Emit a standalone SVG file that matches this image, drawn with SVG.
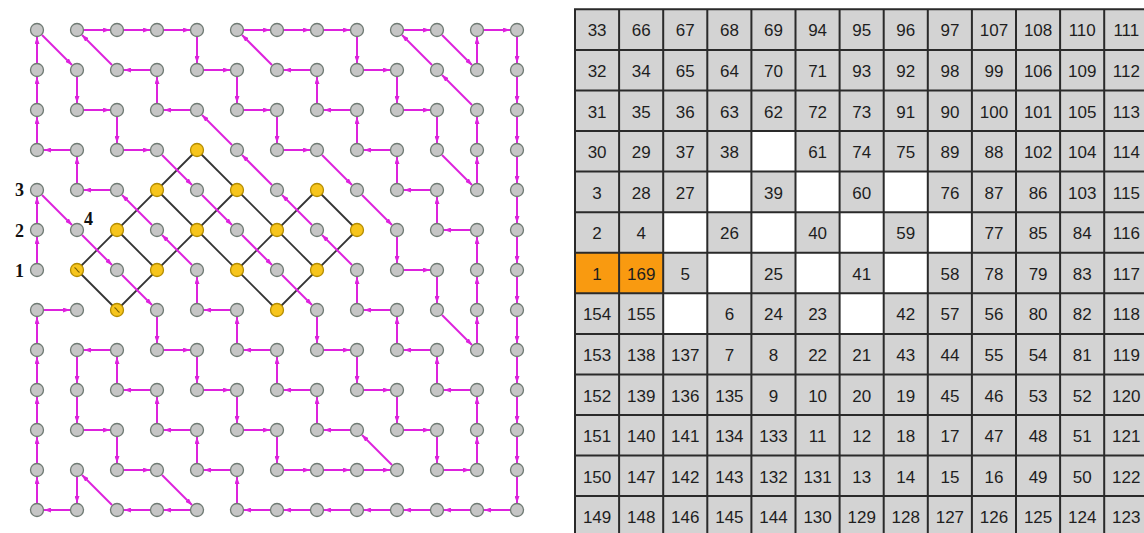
<svg xmlns="http://www.w3.org/2000/svg" width="1144" height="533" viewBox="0 0 1144 533">
<style>
.g{fill:#c6c6c6;stroke:#6f7a73;stroke-width:1.3}
.y{fill:#f7c51c;stroke:#b58d00;stroke-width:1.3}
.hm{stroke:#7a5f00;stroke-width:1.1;fill:none}
#edges path{stroke:#dd22dd;stroke-width:2;fill:none;marker-end:url(#ah)}
#lattice path{stroke:#333;stroke-width:1.8;fill:none}
.lbl{font-family:"Liberation Serif",serif;font-weight:bold;font-size:18px;fill:#111}
.tt{font-family:"Liberation Sans",Arial,sans-serif;font-size:17px;fill:#1e1e1e;text-anchor:middle}
.gl{stroke:#2a2a2a;stroke-width:2}
</style>
<defs>
<marker id="ah" markerUnits="userSpaceOnUse" viewBox="0 0 7 5" markerWidth="7" markerHeight="5" refX="7" refY="2.5" orient="auto"><path d="M0,0L7,2.5L0,5z" fill="#dd22dd"/></marker>
</defs>
<rect width="1144" height="533" fill="#fff"/>
<g id="lattice">
<path d="M77 270L197 150"/><path d="M117 310L237 190"/><path d="M237 270L317 190"/><path d="M277 310L357 230"/>
<path d="M197 150L317 270"/><path d="M157 190L277 310"/><path d="M117 230L157 270"/><path d="M77 270L117 310"/><path d="M317 190L357 230"/>
</g>
<g id="edges">
<path d="M37 263V237"/><path d="M37 223V197"/><path d="M42 195L72 225"/><path d="M82 235L112 265"/><path d="M122 275L152 305"/>
<path d="M157 317V343"/><path d="M164 350H190"/><path d="M197 357V383"/><path d="M204 390H230"/><path d="M237 397V423"/>
<path d="M244 430H270"/><path d="M277 437V463"/><path d="M284 470H310"/><path d="M324 470H350"/><path d="M364 470H390"/>
<path d="M392 465L362 435"/><path d="M350 430H324"/><path d="M317 423V397"/><path d="M310 390H284"/><path d="M277 383V357"/>
<path d="M270 350H244"/><path d="M237 343V317"/><path d="M230 310H204"/><path d="M197 303V277"/><path d="M192 265L162 235"/>
<path d="M152 225L122 195"/><path d="M110 190H84"/><path d="M77 183V157"/><path d="M70 150H44"/><path d="M37 143V117"/>
<path d="M37 103V77"/><path d="M37 63V37"/><path d="M42 35L72 65"/><path d="M77 77V103"/><path d="M84 110H110"/>
<path d="M117 117V143"/><path d="M124 150H150"/><path d="M162 155L192 185"/><path d="M202 195L232 225"/><path d="M242 235L272 265"/>
<path d="M282 275L312 305"/><path d="M317 317V343"/><path d="M324 350H350"/><path d="M357 357V383"/><path d="M364 390H390"/>
<path d="M397 397V423"/><path d="M404 430H430"/><path d="M437 437V463"/><path d="M444 470H470"/><path d="M477 463V437"/>
<path d="M477 423V397"/><path d="M470 390H444"/><path d="M437 383V357"/><path d="M430 350H404"/><path d="M397 343V317"/>
<path d="M390 310H364"/><path d="M357 303V277"/><path d="M352 265L322 235"/><path d="M312 225L282 195"/><path d="M272 185L242 155"/>
<path d="M232 145L202 115"/><path d="M190 110H164"/><path d="M157 103V77"/><path d="M150 70H124"/><path d="M112 65L82 35"/>
<path d="M84 30H110"/><path d="M124 30H150"/><path d="M164 30H190"/><path d="M197 37V63"/><path d="M204 70H230"/>
<path d="M237 77V103"/><path d="M244 110H270"/><path d="M277 117V143"/><path d="M284 150H310"/><path d="M322 155L352 185"/>
<path d="M362 195L392 225"/><path d="M397 237V263"/><path d="M404 270H430"/><path d="M437 277V303"/><path d="M442 315L472 345"/>
<path d="M477 343V317"/><path d="M477 303V277"/><path d="M477 263V237"/><path d="M470 230H444"/><path d="M437 223V197"/>
<path d="M430 190H404"/><path d="M397 183V157"/><path d="M390 150H364"/><path d="M357 143V117"/><path d="M350 110H324"/>
<path d="M317 103V77"/><path d="M310 70H284"/><path d="M272 65L242 35"/><path d="M244 30H270"/><path d="M284 30H310"/>
<path d="M324 30H350"/><path d="M357 37V63"/><path d="M364 70H390"/><path d="M397 77V103"/><path d="M404 110H430"/>
<path d="M437 117V143"/><path d="M442 155L472 185"/><path d="M477 183V157"/><path d="M477 143V117"/><path d="M472 105L442 75"/>
<path d="M432 65L402 35"/><path d="M404 30H430"/><path d="M442 35L472 65"/><path d="M477 63V37"/><path d="M484 30H510"/>
<path d="M517 37V63"/><path d="M517 77V103"/><path d="M517 117V143"/><path d="M517 157V183"/><path d="M517 197V223"/>
<path d="M517 237V263"/><path d="M517 277V303"/><path d="M517 317V343"/><path d="M517 357V383"/><path d="M517 397V423"/>
<path d="M517 437V463"/><path d="M517 477V503"/><path d="M510 510H484"/><path d="M470 510H444"/><path d="M430 510H404"/>
<path d="M390 510H364"/><path d="M350 510H324"/><path d="M310 510H284"/><path d="M270 510H244"/><path d="M237 503V477"/>
<path d="M230 470H204"/><path d="M197 463V437"/><path d="M190 430H164"/><path d="M157 423V397"/><path d="M150 390H124"/>
<path d="M117 383V357"/><path d="M110 350H84"/><path d="M77 357V383"/><path d="M77 397V423"/><path d="M84 430H110"/>
<path d="M117 437V463"/><path d="M124 470H150"/><path d="M162 475L192 505"/><path d="M190 510H164"/><path d="M150 510H124"/>
<path d="M112 505L82 475"/><path d="M77 477V503"/><path d="M70 510H44"/><path d="M37 503V477"/><path d="M37 463V437"/>
<path d="M37 423V397"/><path d="M37 383V357"/><path d="M37 343V317"/><path d="M44 310H70"/>
</g>
<g id="nodes">
<g id="n0_0"><circle class="g" cx="37" cy="30" r="6.5"/></g><g id="n0_1"><circle class="g" cx="77" cy="30" r="6.5"/></g><g id="n0_2"><circle class="g" cx="117" cy="30" r="6.5"/></g><g id="n0_3"><circle class="g" cx="157" cy="30" r="6.5"/></g><g id="n0_4"><circle class="g" cx="197" cy="30" r="6.5"/></g><g id="n0_5"><circle class="g" cx="237" cy="30" r="6.5"/></g><g id="n0_6"><circle class="g" cx="277" cy="30" r="6.5"/></g><g id="n0_7"><circle class="g" cx="317" cy="30" r="6.5"/></g><g id="n0_8"><circle class="g" cx="357" cy="30" r="6.5"/></g><g id="n0_9"><circle class="g" cx="397" cy="30" r="6.5"/></g><g id="n0_10"><circle class="g" cx="437" cy="30" r="6.5"/></g><g id="n0_11"><circle class="g" cx="477" cy="30" r="6.5"/></g><g id="n0_12"><circle class="g" cx="517" cy="30" r="6.5"/></g>
<g id="n1_0"><circle class="g" cx="37" cy="70" r="6.5"/></g><g id="n1_1"><circle class="g" cx="77" cy="70" r="6.5"/></g><g id="n1_2"><circle class="g" cx="117" cy="70" r="6.5"/></g><g id="n1_3"><circle class="g" cx="157" cy="70" r="6.5"/></g><g id="n1_4"><circle class="g" cx="197" cy="70" r="6.5"/></g><g id="n1_5"><circle class="g" cx="237" cy="70" r="6.5"/></g><g id="n1_6"><circle class="g" cx="277" cy="70" r="6.5"/></g><g id="n1_7"><circle class="g" cx="317" cy="70" r="6.5"/></g><g id="n1_8"><circle class="g" cx="357" cy="70" r="6.5"/></g><g id="n1_9"><circle class="g" cx="397" cy="70" r="6.5"/></g><g id="n1_10"><circle class="g" cx="437" cy="70" r="6.5"/></g><g id="n1_11"><circle class="g" cx="477" cy="70" r="6.5"/></g><g id="n1_12"><circle class="g" cx="517" cy="70" r="6.5"/></g>
<g id="n2_0"><circle class="g" cx="37" cy="110" r="6.5"/></g><g id="n2_1"><circle class="g" cx="77" cy="110" r="6.5"/></g><g id="n2_2"><circle class="g" cx="117" cy="110" r="6.5"/></g><g id="n2_3"><circle class="g" cx="157" cy="110" r="6.5"/></g><g id="n2_4"><circle class="g" cx="197" cy="110" r="6.5"/></g><g id="n2_5"><circle class="g" cx="237" cy="110" r="6.5"/></g><g id="n2_6"><circle class="g" cx="277" cy="110" r="6.5"/></g><g id="n2_7"><circle class="g" cx="317" cy="110" r="6.5"/></g><g id="n2_8"><circle class="g" cx="357" cy="110" r="6.5"/></g><g id="n2_9"><circle class="g" cx="397" cy="110" r="6.5"/></g><g id="n2_10"><circle class="g" cx="437" cy="110" r="6.5"/></g><g id="n2_11"><circle class="g" cx="477" cy="110" r="6.5"/></g><g id="n2_12"><circle class="g" cx="517" cy="110" r="6.5"/></g>
<g id="n3_0"><circle class="g" cx="37" cy="150" r="6.5"/></g><g id="n3_1"><circle class="g" cx="77" cy="150" r="6.5"/></g><g id="n3_2"><circle class="g" cx="117" cy="150" r="6.5"/></g><g id="n3_3"><circle class="g" cx="157" cy="150" r="6.5"/></g><g id="n3_4"><circle class="y" cx="197" cy="150" r="6.5"/></g><g id="n3_5"><circle class="g" cx="237" cy="150" r="6.5"/></g><g id="n3_6"><circle class="g" cx="277" cy="150" r="6.5"/></g><g id="n3_7"><circle class="g" cx="317" cy="150" r="6.5"/></g><g id="n3_8"><circle class="g" cx="357" cy="150" r="6.5"/></g><g id="n3_9"><circle class="g" cx="397" cy="150" r="6.5"/></g><g id="n3_10"><circle class="g" cx="437" cy="150" r="6.5"/></g><g id="n3_11"><circle class="g" cx="477" cy="150" r="6.5"/></g><g id="n3_12"><circle class="g" cx="517" cy="150" r="6.5"/></g>
<g id="n4_0"><circle class="g" cx="37" cy="190" r="6.5"/><text class="lbl" x="24" y="196" text-anchor="end">3</text></g><g id="n4_1"><circle class="g" cx="77" cy="190" r="6.5"/></g><g id="n4_2"><circle class="g" cx="117" cy="190" r="6.5"/></g><g id="n4_3"><circle class="y" cx="157" cy="190" r="6.5"/></g><g id="n4_4"><circle class="g" cx="197" cy="190" r="6.5"/></g><g id="n4_5"><circle class="y" cx="237" cy="190" r="6.5"/></g><g id="n4_6"><circle class="g" cx="277" cy="190" r="6.5"/></g><g id="n4_7"><circle class="y" cx="317" cy="190" r="6.5"/></g><g id="n4_8"><circle class="g" cx="357" cy="190" r="6.5"/></g><g id="n4_9"><circle class="g" cx="397" cy="190" r="6.5"/></g><g id="n4_10"><circle class="g" cx="437" cy="190" r="6.5"/></g><g id="n4_11"><circle class="g" cx="477" cy="190" r="6.5"/></g><g id="n4_12"><circle class="g" cx="517" cy="190" r="6.5"/></g>
<g id="n5_0"><circle class="g" cx="37" cy="230" r="6.5"/><text class="lbl" x="24" y="237" text-anchor="end">2</text></g><g id="n5_1"><circle class="g" cx="77" cy="230" r="6.5"/><text class="lbl" x="88.5" y="225" text-anchor="middle">4</text></g><g id="n5_2"><circle class="y" cx="117" cy="230" r="6.5"/></g><g id="n5_3"><circle class="g" cx="157" cy="230" r="6.5"/></g><g id="n5_4"><circle class="y" cx="197" cy="230" r="6.5"/></g><g id="n5_5"><circle class="g" cx="237" cy="230" r="6.5"/></g><g id="n5_6"><circle class="y" cx="277" cy="230" r="6.5"/></g><g id="n5_7"><circle class="g" cx="317" cy="230" r="6.5"/></g><g id="n5_8"><circle class="y" cx="357" cy="230" r="6.5"/></g><g id="n5_9"><circle class="g" cx="397" cy="230" r="6.5"/></g><g id="n5_10"><circle class="g" cx="437" cy="230" r="6.5"/></g><g id="n5_11"><circle class="g" cx="477" cy="230" r="6.5"/></g><g id="n5_12"><circle class="g" cx="517" cy="230" r="6.5"/></g>
<g id="n6_0"><circle class="g" cx="37" cy="270" r="6.5"/><text class="lbl" x="24" y="277" text-anchor="end">1</text></g><g id="n6_1"><circle class="y" cx="77" cy="270" r="6.5"/><path class="hm" d="M74.5 267.5Q76 268.5 77 270T79.5 272.5"/></g><g id="n6_2"><circle class="g" cx="117" cy="270" r="6.5"/></g><g id="n6_3"><circle class="y" cx="157" cy="270" r="6.5"/></g><g id="n6_4"><circle class="g" cx="197" cy="270" r="6.5"/></g><g id="n6_5"><circle class="y" cx="237" cy="270" r="6.5"/></g><g id="n6_6"><circle class="g" cx="277" cy="270" r="6.5"/></g><g id="n6_7"><circle class="y" cx="317" cy="270" r="6.5"/></g><g id="n6_8"><circle class="g" cx="357" cy="270" r="6.5"/></g><g id="n6_9"><circle class="g" cx="397" cy="270" r="6.5"/></g><g id="n6_10"><circle class="g" cx="437" cy="270" r="6.5"/></g><g id="n6_11"><circle class="g" cx="477" cy="270" r="6.5"/></g><g id="n6_12"><circle class="g" cx="517" cy="270" r="6.5"/></g>
<g id="n7_0"><circle class="g" cx="37" cy="310" r="6.5"/></g><g id="n7_1"><circle class="g" cx="77" cy="310" r="6.5"/></g><g id="n7_2"><circle class="y" cx="117" cy="310" r="6.5"/><path class="hm" d="M114.5 307.5Q116 308.5 117 310T119.5 312.5"/></g><g id="n7_3"><circle class="g" cx="157" cy="310" r="6.5"/></g><g id="n7_4"><circle class="g" cx="197" cy="310" r="6.5"/></g><g id="n7_5"><circle class="g" cx="237" cy="310" r="6.5"/></g><g id="n7_6"><circle class="y" cx="277" cy="310" r="6.5"/></g><g id="n7_7"><circle class="g" cx="317" cy="310" r="6.5"/></g><g id="n7_8"><circle class="g" cx="357" cy="310" r="6.5"/></g><g id="n7_9"><circle class="g" cx="397" cy="310" r="6.5"/></g><g id="n7_10"><circle class="g" cx="437" cy="310" r="6.5"/></g><g id="n7_11"><circle class="g" cx="477" cy="310" r="6.5"/></g><g id="n7_12"><circle class="g" cx="517" cy="310" r="6.5"/></g>
<g id="n8_0"><circle class="g" cx="37" cy="350" r="6.5"/></g><g id="n8_1"><circle class="g" cx="77" cy="350" r="6.5"/></g><g id="n8_2"><circle class="g" cx="117" cy="350" r="6.5"/></g><g id="n8_3"><circle class="g" cx="157" cy="350" r="6.5"/></g><g id="n8_4"><circle class="g" cx="197" cy="350" r="6.5"/></g><g id="n8_5"><circle class="g" cx="237" cy="350" r="6.5"/></g><g id="n8_6"><circle class="g" cx="277" cy="350" r="6.5"/></g><g id="n8_7"><circle class="g" cx="317" cy="350" r="6.5"/></g><g id="n8_8"><circle class="g" cx="357" cy="350" r="6.5"/></g><g id="n8_9"><circle class="g" cx="397" cy="350" r="6.5"/></g><g id="n8_10"><circle class="g" cx="437" cy="350" r="6.5"/></g><g id="n8_11"><circle class="g" cx="477" cy="350" r="6.5"/></g><g id="n8_12"><circle class="g" cx="517" cy="350" r="6.5"/></g>
<g id="n9_0"><circle class="g" cx="37" cy="390" r="6.5"/></g><g id="n9_1"><circle class="g" cx="77" cy="390" r="6.5"/></g><g id="n9_2"><circle class="g" cx="117" cy="390" r="6.5"/></g><g id="n9_3"><circle class="g" cx="157" cy="390" r="6.5"/></g><g id="n9_4"><circle class="g" cx="197" cy="390" r="6.5"/></g><g id="n9_5"><circle class="g" cx="237" cy="390" r="6.5"/></g><g id="n9_6"><circle class="g" cx="277" cy="390" r="6.5"/></g><g id="n9_7"><circle class="g" cx="317" cy="390" r="6.5"/></g><g id="n9_8"><circle class="g" cx="357" cy="390" r="6.5"/></g><g id="n9_9"><circle class="g" cx="397" cy="390" r="6.5"/></g><g id="n9_10"><circle class="g" cx="437" cy="390" r="6.5"/></g><g id="n9_11"><circle class="g" cx="477" cy="390" r="6.5"/></g><g id="n9_12"><circle class="g" cx="517" cy="390" r="6.5"/></g>
<g id="n10_0"><circle class="g" cx="37" cy="430" r="6.5"/></g><g id="n10_1"><circle class="g" cx="77" cy="430" r="6.5"/></g><g id="n10_2"><circle class="g" cx="117" cy="430" r="6.5"/></g><g id="n10_3"><circle class="g" cx="157" cy="430" r="6.5"/></g><g id="n10_4"><circle class="g" cx="197" cy="430" r="6.5"/></g><g id="n10_5"><circle class="g" cx="237" cy="430" r="6.5"/></g><g id="n10_6"><circle class="g" cx="277" cy="430" r="6.5"/></g><g id="n10_7"><circle class="g" cx="317" cy="430" r="6.5"/></g><g id="n10_8"><circle class="g" cx="357" cy="430" r="6.5"/></g><g id="n10_9"><circle class="g" cx="397" cy="430" r="6.5"/></g><g id="n10_10"><circle class="g" cx="437" cy="430" r="6.5"/></g><g id="n10_11"><circle class="g" cx="477" cy="430" r="6.5"/></g><g id="n10_12"><circle class="g" cx="517" cy="430" r="6.5"/></g>
<g id="n11_0"><circle class="g" cx="37" cy="470" r="6.5"/></g><g id="n11_1"><circle class="g" cx="77" cy="470" r="6.5"/></g><g id="n11_2"><circle class="g" cx="117" cy="470" r="6.5"/></g><g id="n11_3"><circle class="g" cx="157" cy="470" r="6.5"/></g><g id="n11_4"><circle class="g" cx="197" cy="470" r="6.5"/></g><g id="n11_5"><circle class="g" cx="237" cy="470" r="6.5"/></g><g id="n11_6"><circle class="g" cx="277" cy="470" r="6.5"/></g><g id="n11_7"><circle class="g" cx="317" cy="470" r="6.5"/></g><g id="n11_8"><circle class="g" cx="357" cy="470" r="6.5"/></g><g id="n11_9"><circle class="g" cx="397" cy="470" r="6.5"/></g><g id="n11_10"><circle class="g" cx="437" cy="470" r="6.5"/></g><g id="n11_11"><circle class="g" cx="477" cy="470" r="6.5"/></g><g id="n11_12"><circle class="g" cx="517" cy="470" r="6.5"/></g>
<g id="n12_0"><circle class="g" cx="37" cy="510" r="6.5"/></g><g id="n12_1"><circle class="g" cx="77" cy="510" r="6.5"/></g><g id="n12_2"><circle class="g" cx="117" cy="510" r="6.5"/></g><g id="n12_3"><circle class="g" cx="157" cy="510" r="6.5"/></g><g id="n12_4"><circle class="g" cx="197" cy="510" r="6.5"/></g><g id="n12_5"><circle class="g" cx="237" cy="510" r="6.5"/></g><g id="n12_6"><circle class="g" cx="277" cy="510" r="6.5"/></g><g id="n12_7"><circle class="g" cx="317" cy="510" r="6.5"/></g><g id="n12_8"><circle class="g" cx="357" cy="510" r="6.5"/></g><g id="n12_9"><circle class="g" cx="397" cy="510" r="6.5"/></g><g id="n12_10"><circle class="g" cx="437" cy="510" r="6.5"/></g><g id="n12_11"><circle class="g" cx="477" cy="510" r="6.5"/></g><g id="n12_12"><circle class="g" cx="517" cy="510" r="6.5"/></g>
</g>
<g id="table">
<rect x="575" y="9.3" width="580" height="540" fill="#d3d3d3"/>
<g fill="#f99a10"><rect x="575" y="252.7" width="88.2" height="40.6"/></g>
<g fill="#fff">
<rect x="751.4" y="131" width="44.1" height="40.6"/>
<rect x="707.3" y="171.6" width="44.1" height="40.6"/><rect x="795.5" y="171.6" width="44.1" height="40.6"/><rect x="883.7" y="171.6" width="44.1" height="40.6"/>
<rect x="663.2" y="212.2" width="44.1" height="40.6"/><rect x="751.4" y="212.2" width="44.1" height="40.6"/><rect x="839.6" y="212.2" width="44.1" height="40.6"/><rect x="927.8" y="212.2" width="44.1" height="40.6"/>
<rect x="707.3" y="252.7" width="44.1" height="40.6"/><rect x="795.5" y="252.7" width="44.1" height="40.6"/><rect x="883.7" y="252.7" width="44.1" height="40.6"/>
<rect x="663.2" y="293.3" width="44.1" height="40.6"/><rect x="839.6" y="293.3" width="44.1" height="40.6"/>
</g>
<g class="gl">
<path d="M575 9.3V533M619.1 9.3V533M663.2 9.3V533M707.3 9.3V533M751.4 9.3V533M795.5 9.3V533M839.6 9.3V533M883.7 9.3V533M927.8 9.3V533M971.9 9.3V533M1016 9.3V533M1060.1 9.3V533M1104.2 9.3V533"/>
<path d="M574 9.3H1144M574 49.9H1144M574 90.4H1144M574 131H1144M574 171.6H1144M574 212.2H1144M574 252.7H1144M574 293.3H1144M574 333.9H1144M574 374.4H1144M574 415H1144M574 455.6H1144M574 496.1H1144"/>
</g>
<g class="tt">
<text y="36.4"><tspan x="597.1">33</tspan><tspan x="641.2">66</tspan><tspan x="685.3">67</tspan><tspan x="729.4">68</tspan><tspan x="773.5">69</tspan><tspan x="817.6">94</tspan><tspan x="861.7">95</tspan><tspan x="905.8">96</tspan><tspan x="949.9">97</tspan><tspan x="994">107</tspan><tspan x="1038.1">108</tspan><tspan x="1082.2">110</tspan><tspan x="1126.3">111</tspan></text>
<text y="77"><tspan x="597.1">32</tspan><tspan x="641.2">34</tspan><tspan x="685.3">65</tspan><tspan x="729.4">64</tspan><tspan x="773.5">70</tspan><tspan x="817.6">71</tspan><tspan x="861.7">93</tspan><tspan x="905.8">92</tspan><tspan x="949.9">98</tspan><tspan x="994">99</tspan><tspan x="1038.1">106</tspan><tspan x="1082.2">109</tspan><tspan x="1126.3">112</tspan></text>
<text y="117.5"><tspan x="597.1">31</tspan><tspan x="641.2">35</tspan><tspan x="685.3">36</tspan><tspan x="729.4">63</tspan><tspan x="773.5">62</tspan><tspan x="817.6">72</tspan><tspan x="861.7">73</tspan><tspan x="905.8">91</tspan><tspan x="949.9">90</tspan><tspan x="994">100</tspan><tspan x="1038.1">101</tspan><tspan x="1082.2">105</tspan><tspan x="1126.3">113</tspan></text>
<text y="158.1"><tspan x="597.1">30</tspan><tspan x="641.2">29</tspan><tspan x="685.3">37</tspan><tspan x="729.4">38</tspan><tspan x="817.6">61</tspan><tspan x="861.7">74</tspan><tspan x="905.8">75</tspan><tspan x="949.9">89</tspan><tspan x="994">88</tspan><tspan x="1038.1">102</tspan><tspan x="1082.2">104</tspan><tspan x="1126.3">114</tspan></text>
<text y="198.7"><tspan x="597.1">3</tspan><tspan x="641.2">28</tspan><tspan x="685.3">27</tspan><tspan x="773.5">39</tspan><tspan x="861.7">60</tspan><tspan x="949.9">76</tspan><tspan x="994">87</tspan><tspan x="1038.1">86</tspan><tspan x="1082.2">103</tspan><tspan x="1126.3">115</tspan></text>
<text y="239.3"><tspan x="597.1">2</tspan><tspan x="641.2">4</tspan><tspan x="729.4">26</tspan><tspan x="817.6">40</tspan><tspan x="905.8">59</tspan><tspan x="994">77</tspan><tspan x="1038.1">85</tspan><tspan x="1082.2">84</tspan><tspan x="1126.3">116</tspan></text>
<text y="279.8"><tspan x="597.1">1</tspan><tspan x="641.2">169</tspan><tspan x="685.3">5</tspan><tspan x="773.5">25</tspan><tspan x="861.7">41</tspan><tspan x="949.9">58</tspan><tspan x="994">78</tspan><tspan x="1038.1">79</tspan><tspan x="1082.2">83</tspan><tspan x="1126.3">117</tspan></text>
<text y="320.4"><tspan x="597.1">154</tspan><tspan x="641.2">155</tspan><tspan x="729.4">6</tspan><tspan x="773.5">24</tspan><tspan x="817.6">23</tspan><tspan x="905.8">42</tspan><tspan x="949.9">57</tspan><tspan x="994">56</tspan><tspan x="1038.1">80</tspan><tspan x="1082.2">82</tspan><tspan x="1126.3">118</tspan></text>
<text y="361"><tspan x="597.1">153</tspan><tspan x="641.2">138</tspan><tspan x="685.3">137</tspan><tspan x="729.4">7</tspan><tspan x="773.5">8</tspan><tspan x="817.6">22</tspan><tspan x="861.7">21</tspan><tspan x="905.8">43</tspan><tspan x="949.9">44</tspan><tspan x="994">55</tspan><tspan x="1038.1">54</tspan><tspan x="1082.2">81</tspan><tspan x="1126.3">119</tspan></text>
<text y="401.5"><tspan x="597.1">152</tspan><tspan x="641.2">139</tspan><tspan x="685.3">136</tspan><tspan x="729.4">135</tspan><tspan x="773.5">9</tspan><tspan x="817.6">10</tspan><tspan x="861.7">20</tspan><tspan x="905.8">19</tspan><tspan x="949.9">45</tspan><tspan x="994">46</tspan><tspan x="1038.1">53</tspan><tspan x="1082.2">52</tspan><tspan x="1126.3">120</tspan></text>
<text y="442.1"><tspan x="597.1">151</tspan><tspan x="641.2">140</tspan><tspan x="685.3">141</tspan><tspan x="729.4">134</tspan><tspan x="773.5">133</tspan><tspan x="817.6">11</tspan><tspan x="861.7">12</tspan><tspan x="905.8">18</tspan><tspan x="949.9">17</tspan><tspan x="994">47</tspan><tspan x="1038.1">48</tspan><tspan x="1082.2">51</tspan><tspan x="1126.3">121</tspan></text>
<text y="482.7"><tspan x="597.1">150</tspan><tspan x="641.2">147</tspan><tspan x="685.3">142</tspan><tspan x="729.4">143</tspan><tspan x="773.5">132</tspan><tspan x="817.6">131</tspan><tspan x="861.7">13</tspan><tspan x="905.8">14</tspan><tspan x="949.9">15</tspan><tspan x="994">16</tspan><tspan x="1038.1">49</tspan><tspan x="1082.2">50</tspan><tspan x="1126.3">122</tspan></text>
<text y="523.2"><tspan x="597.1">149</tspan><tspan x="641.2">148</tspan><tspan x="685.3">146</tspan><tspan x="729.4">145</tspan><tspan x="773.5">144</tspan><tspan x="817.6">130</tspan><tspan x="861.7">129</tspan><tspan x="905.8">128</tspan><tspan x="949.9">127</tspan><tspan x="994">126</tspan><tspan x="1038.1">125</tspan><tspan x="1082.2">124</tspan><tspan x="1126.3">123</tspan></text>
</g>
</g>
</svg>
